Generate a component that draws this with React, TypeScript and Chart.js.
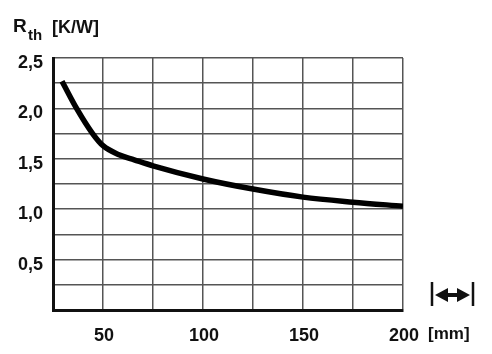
import React, { useEffect, useRef } from "react";
import { Chart, registerables } from "chart.js";

Chart.register(...registerables);

const lengthMm = [29.5, 36.8, 44.8, 50, 58, 65.6, 75, 100, 125, 150, 175, 200];
const rthKW = [2.27, 2.0, 1.75, 1.63, 1.54, 1.49, 1.43, 1.3, 1.2, 1.12, 1.07, 1.03];
const xLabelValues = [50, 100, 150, 200];
const yLabelValues = [0.5, 1.0, 1.5, 2.0, 2.5];

const FONT = "'Liberation Sans', Arial, sans-serif";

const extrasPlugin = {
  id: "extras",
  afterDraw(chart: any) {
    const ctx = chart.ctx as CanvasRenderingContext2D;
    ctx.save();
    ctx.fillStyle = "#111";
    ctx.textBaseline = "alphabetic";
    ctx.textAlign = "left";
    // Title R_th [K/W]
    ctx.font = `bold 19px ${FONT}`;
    ctx.fillText("R", 13, 32);
    ctx.font = `bold 15px ${FONT}`;
    ctx.fillText("th", 28, 40);
    ctx.font = `bold 18px ${FONT}`;
    ctx.fillText("[K/W]", 52, 33);
    // [mm] unit
    ctx.font = `bold 17px ${FONT}`;
    ctx.textBaseline = "middle";
    ctx.fillText("[mm]", 428, 334);
    // length arrow symbol
    ctx.strokeStyle = "#111";
    ctx.lineWidth = 2.5;
    ctx.beginPath();
    ctx.moveTo(432, 282);
    ctx.lineTo(432, 306);
    ctx.moveTo(473, 282);
    ctx.lineTo(473, 306);
    ctx.stroke();
    ctx.lineWidth = 4;
    ctx.beginPath();
    ctx.moveTo(442, 295);
    ctx.lineTo(463, 295);
    ctx.stroke();
    ctx.beginPath();
    ctx.moveTo(435, 295);
    ctx.lineTo(448, 288);
    ctx.lineTo(448, 302);
    ctx.closePath();
    ctx.moveTo(470, 295);
    ctx.lineTo(457, 288);
    ctx.lineTo(457, 302);
    ctx.closePath();
    ctx.fill();
    ctx.restore();
  },
};

export default function App() {
  const ref = useRef<HTMLCanvasElement | null>(null);
  useEffect(() => {
    if (!ref.current) return;
    const isLabel = (v: number, list: number[]) => list.some((l) => Math.abs(l - v) < 1e-6);
    const chart = new Chart(ref.current, {
      type: "line",
      data: {
        datasets: [
          {
            data: lengthMm.map((x, i) => ({ x, y: rthKW[i] })),
            borderColor: "#000",
            borderWidth: 5.5,
            pointRadius: 0,
            cubicInterpolationMode: "monotone",
            borderCapStyle: "butt",
            fill: false,
          },
        ],
      },
      options: {
        responsive: false,
        animation: false,
        layout: { padding: { top: 58, right: 89, left: 0, bottom: 0 } },
        plugins: { legend: { display: false }, tooltip: { enabled: false } },
        scales: {
          x: {
            type: "linear",
            min: 25,
            max: 200,
            afterFit: (s: any) => {
              s.height = 44;
            },
            grid: { color: "#555", lineWidth: 1.5, drawTicks: false },
            border: { display: true, color: "#111", width: 3 },
            ticks: {
              stepSize: 25,
              autoSkip: false,
              maxRotation: 0,
              padding: 15,
              labelOffset: 1,
              color: "#111",
              font: { family: FONT, size: 18, weight: "bold" },
              callback: (v: any) => (isLabel(Number(v), xLabelValues) ? String(v) : ""),
            },
          },
          y: {
            min: 0,
            max: 2.5,
            afterFit: (s: any) => {
              s.width = 53;
            },
            grid: { color: "#555", lineWidth: 1.5, drawTicks: false },
            border: { display: true, color: "#111", width: 3 },
            ticks: {
              stepSize: 0.25,
              autoSkip: false,
              padding: 10,
              labelOffset: 5,
              color: "#111",
              font: { family: FONT, size: 18, weight: "bold" },
              callback: (v: any) =>
                isLabel(Number(v), yLabelValues) ? Number(v).toFixed(1).replace(".", ",") : "",
            },
          },
        },
      },
      plugins: [extrasPlugin],
    } as any);
    return () => chart.destroy();
  }, []);
  return (
    <div style={{ position: "absolute", left: 0, top: 0, width: 492, height: 354, background: "#fff" }}>
      <canvas ref={ref} width={492} height={354} />
    </div>
  );
}
